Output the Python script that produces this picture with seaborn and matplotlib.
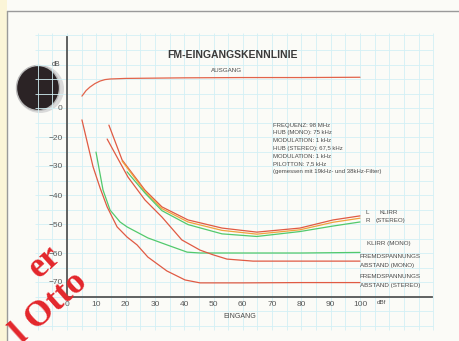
import numpy as np
import seaborn as sns
import matplotlib.pyplot as plt
from matplotlib.patches import Ellipse, Rectangle
from matplotlib.lines import Line2D

# values (x = Eingang in dBf, y = dB)
# Ausgang is read on its own upper scale, where "0" sits at -10 of the lower scale
aus_x = [5.1, 6.5, 7.8, 9.5, 11.3, 13.0, 14.7, 20, 40, 60, 80, 100]
aus_y = [4.1, 6.0, 7.2, 8.4, 9.3, 9.8, 10.0, 10.2, 10.4, 10.5, 10.5, 10.6]
OUT_OFFSET = -10

klirr_l_x = [14.3, 18.8, 26.6, 32.4, 41.3, 52.9, 64.8, 79.5, 90.8, 100]
klirr_l_y = [-15.9, -27.9, -38.3, -44.1, -48.6, -51.4, -52.8, -51.4, -48.6, -47.2]
klirr_m_x = [18.8, 26.6, 32.4, 41.3, 52.9, 64.8, 79.5, 90.8, 100]
klirr_m_y = [-28.3, -38.8, -44.7, -49.3, -52.2, -53.5, -52.0, -49.4, -48.0]
klirr_r_x = [20.5, 26.6, 32.4, 41.3, 52.9, 64.8, 79.5, 90.8, 100]
klirr_r_y = [-32.0, -39.3, -45.4, -50.2, -53.4, -54.3, -52.6, -50.7, -49.3]

klirr_mono_x = [9.9, 12.3, 14.7, 18.1, 20.5, 27.6, 34.1, 41.0, 45.4, 60, 80, 100]
klirr_mono_y = [-25.2, -38.3, -45.2, -49.3, -51.0, -54.8, -57.2, -59.7, -60.0, -60.0, -60.0, -59.8]

fremd_mono_x = [13.7, 20.8, 26.6, 32.4, 39.2, 45.4, 49.8, 54.6, 63.5, 80, 100]
fremd_mono_y = [-20.7, -33.8, -41.7, -47.6, -55.5, -59.0, -60.6, -62.1, -62.8, -62.8, -62.8]

fremd_st_x = [5.1, 8.9, 11.3, 13.7, 17.1, 20.5, 23.9, 27.6, 34.1, 40.3, 45.4, 60, 80, 100]
fremd_st_y = [-14.1, -30.3, -37.6, -44.1, -51.0, -54.5, -57.2, -61.4, -66.2, -69.3, -70.3, -70.3, -70.2, -70.2]

x_ticks = [0, 10, 20, 30, 40, 50, 60, 70, 80, 90, 100]
y_ticks = [-70, -60, -50, -40, -30, -20]
info_lines = ["FREQUENZ: 98 MHz", "HUB (MONO): 75 kHz", "MODULATION: 1 kHz",
              "HUB (STEREO): 67,5 kHz", "MODULATION: 1 kHz", "PILOTTON: 7,5 kHz",
              "(gemessen mit 19kHz- und 38kHz-Filter)"]

sns.set_style("white")
plt.rcParams['font.family'] = ['Liberation Sans', 'DejaVu Sans']

W, H = 459, 341
fig = plt.figure(figsize=(W / 100, H / 100), dpi=100)
fig.patch.set_facecolor("#fbfbf7")

# pixel -> data mapping of the scan
def dx(px):
    return (px - 67) / 2.93

def dy(py):
    return -70 + (282 - py) / 2.9

# background: page frame and graph paper
bg = fig.add_axes([0, 0, 1, 1])
bg.set_xlim(dx(0), dx(W))
bg.set_ylim(dy(H), dy(0))
bg.axis("off")
bg.add_patch(Rectangle((dx(0), dy(H)), dx(7) - dx(0), dy(0) - dy(H), color="#fbf5d8", lw=0))
gx = np.arange(-10, 126, 5)
gy = np.arange(-85, 16, 5)
bg.vlines(gx, dy(330), dy(33), color="#d3f0f5", lw=0.6)
bg.hlines(gy, dx(35), dx(433), color="#d3f0f5", lw=0.6)
fig.add_artist(Line2D([7 / W, 7 / W], [0, 1 - 11 / H], color="#9a9a9a", lw=1.0))
fig.add_artist(Line2D([7 / W, 1], [1 - 11 / H, 1 - 11 / H], color="#9a9a9a", lw=1.0))

# magnet on the page
bg.add_patch(Ellipse((dx(40), dy(89)), 48 / 2.93, 48 / 2.9, facecolor="#dadada", edgecolor="none"))
bg.add_patch(Ellipse((dx(38), dy(88)), 43 / 2.93, 45 / 2.9, facecolor="#2b2325", edgecolor="#b9b9b9", lw=1))

# main chart
ax = fig.add_axes([67 / W, 1 - 297 / H, (432 - 67) / W, (297 - 37) / H])
ax.set_facecolor("none")
ax.set_xlim(0, dx(432))
ax.set_ylim(dy(297), dy(37))

red, green, orange = "#e05a43", "#52c96c", "#f0a23c"
lw = 0.9
sns.lineplot(x=aus_x, y=np.array(aus_y) + OUT_OFFSET, ax=ax, color="#e2634a", lw=lw, sort=False)
sns.lineplot(x=klirr_l_x, y=klirr_l_y, ax=ax, color=red, lw=lw, sort=False)
sns.lineplot(x=klirr_m_x, y=klirr_m_y, ax=ax, color=orange, lw=lw, sort=False)
sns.lineplot(x=klirr_r_x, y=klirr_r_y, ax=ax, color=green, lw=lw, sort=False)
sns.lineplot(x=klirr_mono_x, y=klirr_mono_y, ax=ax, color=green, lw=lw, sort=False)
sns.lineplot(x=fremd_mono_x, y=fremd_mono_y, ax=ax, color=red, lw=lw, sort=False)
sns.lineplot(x=fremd_st_x, y=fremd_st_y, ax=ax, color=red, lw=lw, sort=False)

for side in ["top", "right"]:
    ax.spines[side].set_visible(False)
for side in ["left", "bottom"]:
    ax.spines[side].set_color("#555555")
    ax.spines[side].set_linewidth(1.3)

ax.set_xticks(x_ticks)
ax.set_yticks(y_ticks + [OUT_OFFSET])
ax.set_yticklabels([f"\u2212{-v}" for v in y_ticks] + ["0"])
ax.tick_params(length=0, labelsize=6, colors="#5a5a5a", pad=3)
ax.set_xlabel("")
ax.set_ylabel("")

tc = "#4a4a4a"
ax.text(dx(377), dy(303), "dBf", fontsize=4.5, color=tc, va="center", clip_on=False)
ax.text(dx(56), dy(64), "dB", fontsize=5, color=tc, ha="center", va="center", clip_on=False)
ax.text(dx(240), dy(317), "EINGANG", fontsize=5, color=tc, ha="center", va="center", clip_on=False)
ax.text(dx(233), dy(55), "FM-EINGANGSKENNLINIE", fontsize=7.5, fontweight="bold",
        color="#3a3a3a", ha="center", va="center")
ax.text(dx(227), dy(71), "AUSGANG", fontsize=4.5, color=tc, ha="center", va="center")
for i, line in enumerate(info_lines):
    ax.text(dx(273), dy(125 + i * 7.8), line, fontsize=4.3, color=tc, va="center")

ax.text(dx(365), dy(212), "L", fontsize=4.5, color=tc, va="center", clip_on=False)
ax.text(dx(380), dy(212), "KLIRR", fontsize=4.5, color=tc, va="center", clip_on=False)
ax.text(dx(365), dy(220), "R", fontsize=4.5, color=tc, va="center", clip_on=False)
ax.text(dx(376), dy(220), "(STEREO)", fontsize=4.5, color=tc, va="center", clip_on=False)
ax.text(dx(367), dy(243), "KLIRR (MONO)", fontsize=4.5, color=tc, va="center", clip_on=False)
ax.text(dx(360), dy(257), "FREMDSPANNUNGS", fontsize=4.5, color=tc, va="center", clip_on=False)
ax.text(dx(360), dy(265), "ABSTAND (MONO)", fontsize=4.5, color=tc, va="center", clip_on=False)
ax.text(dx(360), dy(276), "FREMDSPANNUNGS", fontsize=4.5, color=tc, va="center", clip_on=False)
ax.text(dx(360), dy(285), "ABSTAND (STEREO)", fontsize=4.5, color=tc, va="center", clip_on=False)

# watermark
fig.text(45 / W, 1 - 262 / H, "er", fontsize=26, fontweight="bold", family="Liberation Serif",
         color="#e3262b", rotation=42, ha="center", va="center")
fig.text(50 / W, 1 - 308 / H, "l Otto", fontsize=26, fontweight="bold", family="Liberation Serif",
         color="#e3262b", rotation=42, ha="center", va="center")

fig.savefig("out.png", dpi=100, facecolor=fig.get_facecolor())
